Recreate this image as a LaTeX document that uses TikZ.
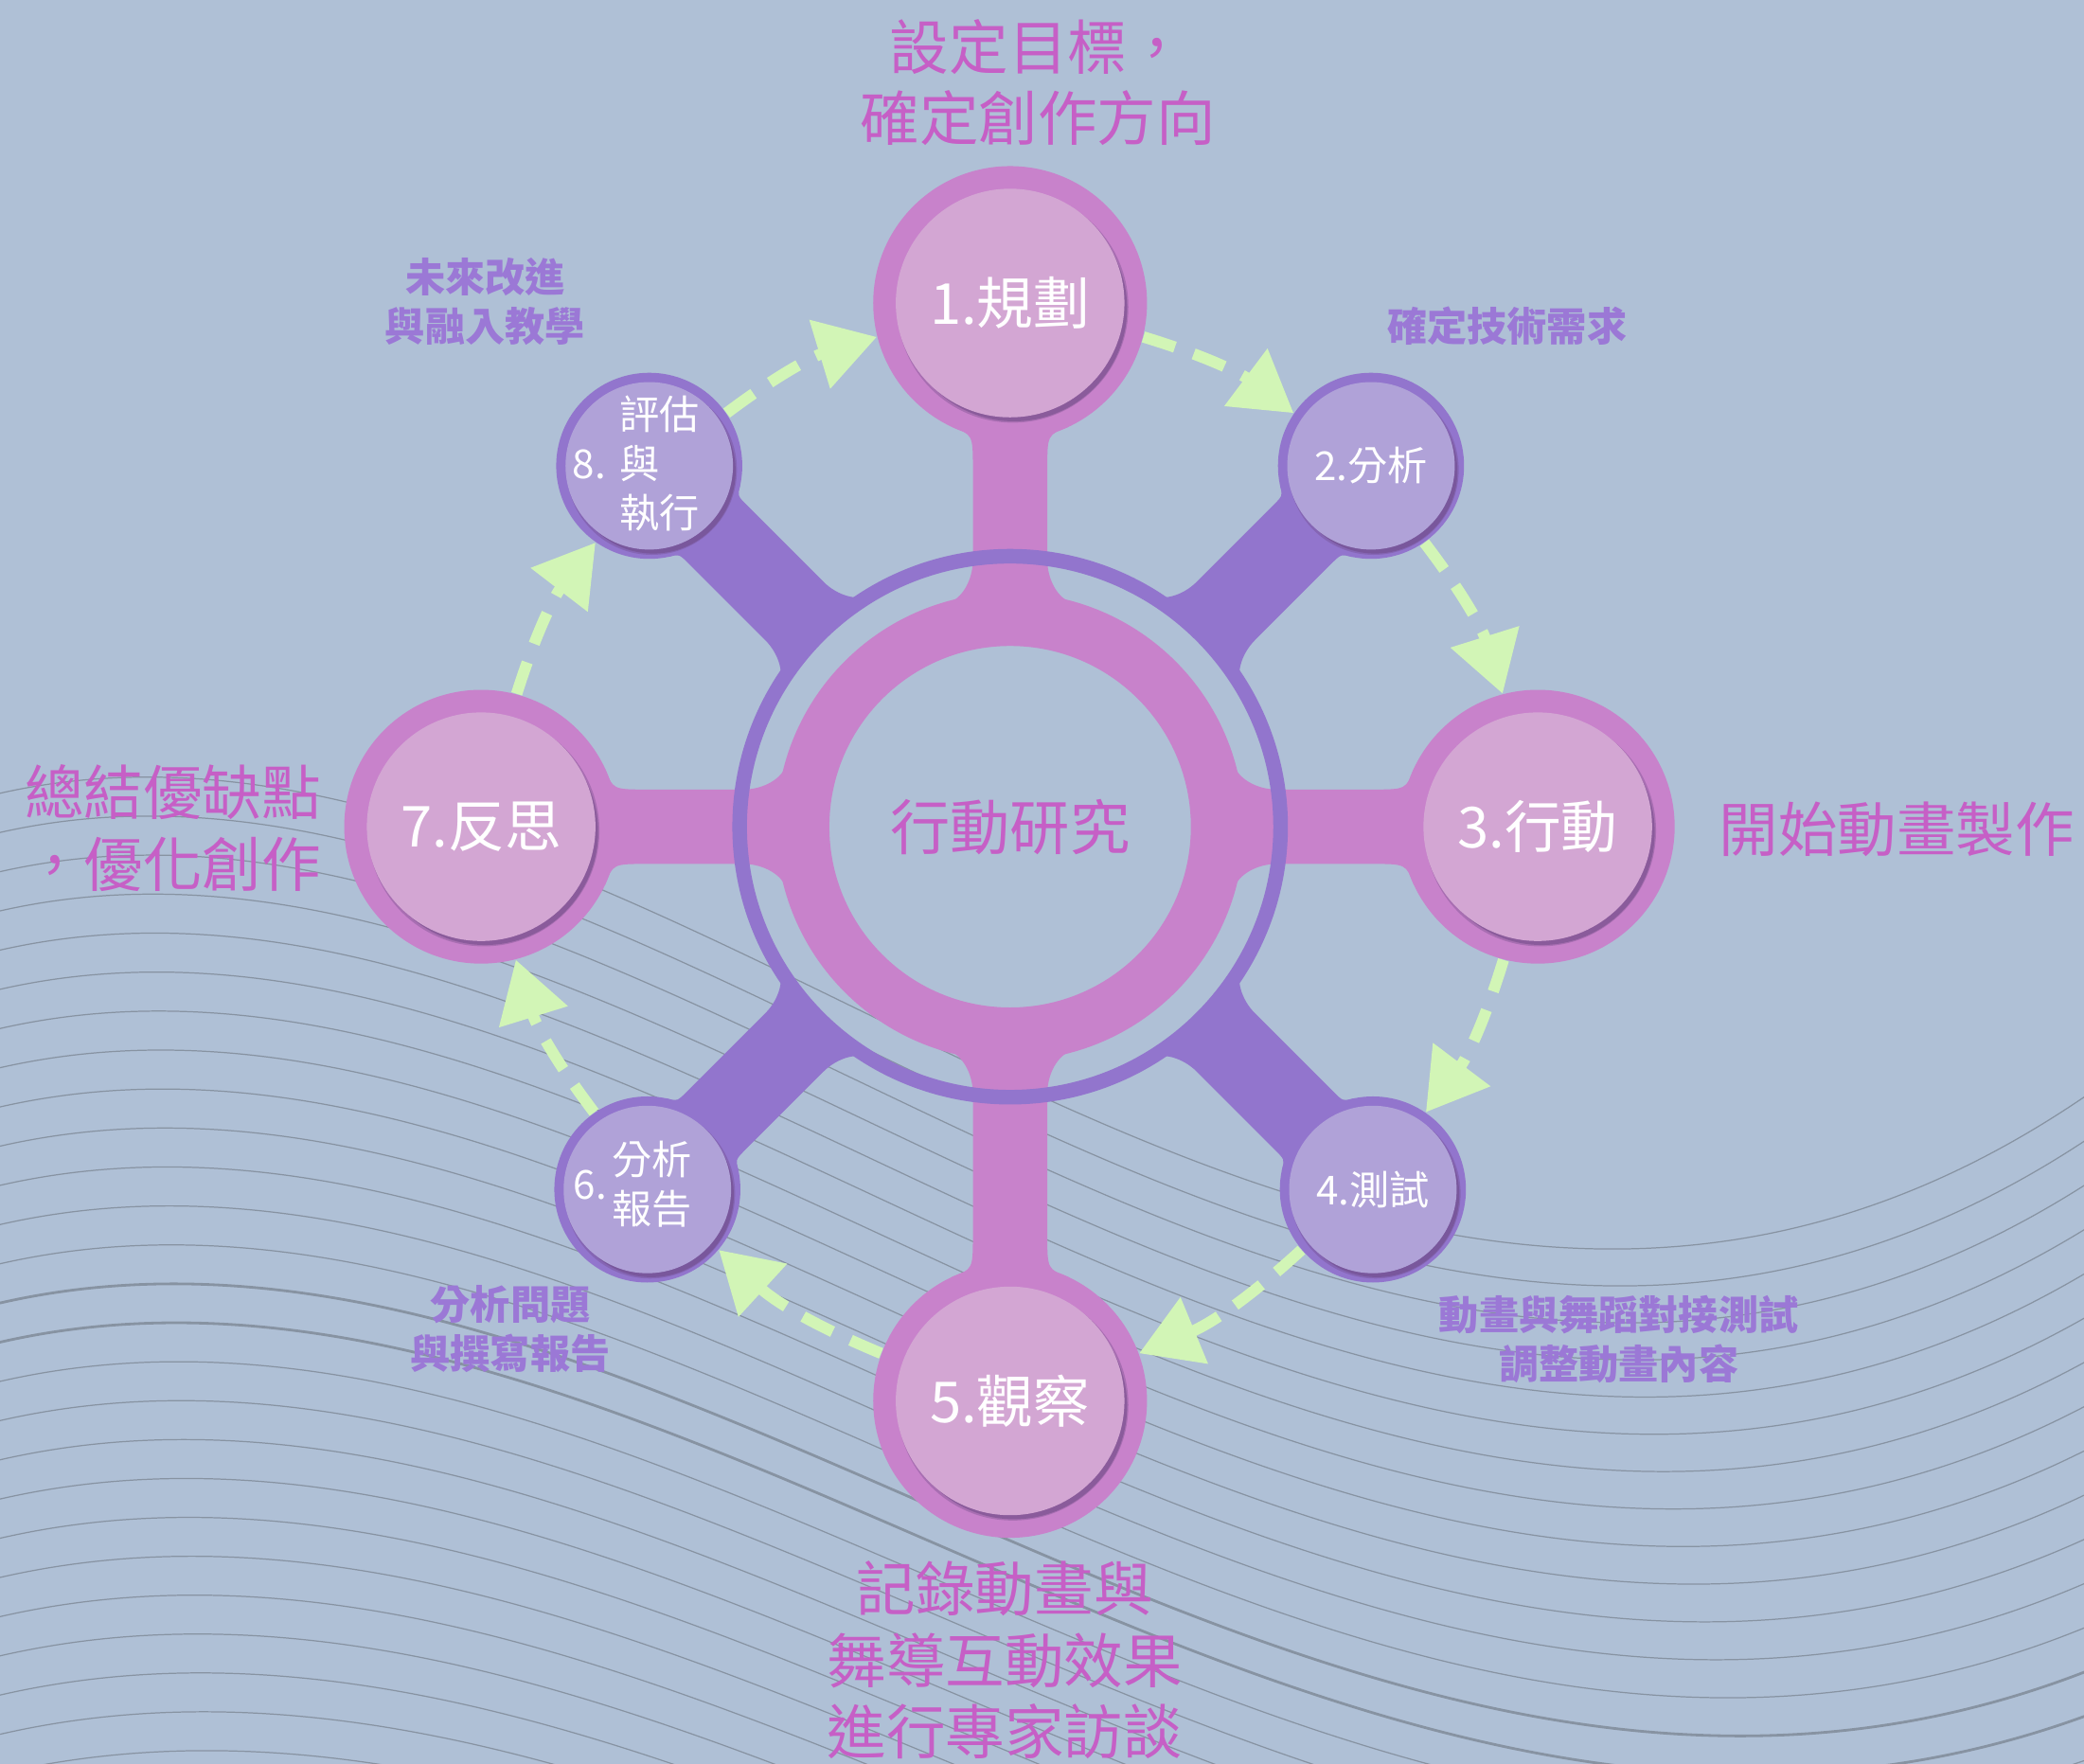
\documentclass[tikz,border=0pt]{standalone}
\usepackage{fontspec}
\newfontfamily\cjk{Noto Sans CJK TC}
\usepackage{tikz}
\usetikzlibrary{arrows.meta}

\definecolor{bgblue}{HTML}{AFC0D6}
\definecolor{pinkring}{HTML}{C882CB}
\definecolor{pinkdisc}{HTML}{D3A6D3}
\definecolor{purpring}{HTML}{9275CD}
\definecolor{purpdisc}{HTML}{B0A2D8}
\definecolor{flowgreen}{HTML}{D2F5B6}
\definecolor{pinktext}{HTML}{C65FC6}
\definecolor{purptext}{HTML}{9B78D6}
\definecolor{discshade}{HTML}{6E4A86}
\definecolor{wavegray}{HTML}{7E8896}

\newlength\pxu
\setlength\pxu{0.014037cm}

% arm from the hub to a node: angle, distance, ring radius, half neck,
% ring flare, flare length, node radius, node flare, colour
\newcommand{\armshape}[9]{%
  \begin{scope}[shift={(c)}, rotate={0-(#1)}]
    \pgfmathsetmacro{\arma}{asin((#4+#5)/#3)}
    \pgfmathsetmacro{\armp}{#3*cos(\arma)}
    \pgfmathsetmacro{\arms}{#3*sqrt(1-(#4/#3)^2)}
    \pgfmathsetmacro{\arme}{#2-#7*sqrt(1-(#4/#7)^2)}
    \pgfmathsetmacro{\armb}{#2-#7*sqrt(1-((#4+#8)/#7)^2)}
    \fill[#9] (\armp,{-(#4+#5)})
      .. controls ({\armp+0.55*#5*sin(\arma)},{-(#4+#5)+0.55*#5*cos(\arma)}) and ({\arms+0.45*#6},{-#4}) .. ({\arms+#6},{-#4})
      -- ({\arme-1.6*#8},{-#4}) .. controls (\arme,{-#4}) .. (\armb,{-(#4+#8)})
      -- (#2,0)
      -- (\armb,{#4+#8}) .. controls (\arme,#4) .. ({\arme-1.6*#8},#4)
      -- ({\arms+#6},#4) .. controls ({\arms+0.45*#6},#4) and ({\armp+0.55*#5*sin(\arma)},{#4+#5-0.55*#5*cos(\arma)}) .. (\armp,{#4+#5})
      arc[start angle=\arma, end angle=-\arma, radius=#3] -- cycle;
  \end{scope}}

\tikzset{
  bignode/.style={circle, fill=pinkring, minimum size=206\pxu, inner sep=0pt},
  smallnode/.style={circle, fill=purpring, minimum size=140\pxu, inner sep=0pt},
  bigdisc/.style={circle, fill=pinkdisc, minimum size=172\pxu, inner sep=0pt, text=white, font=\cjk\fontsize{17}{20}\selectfont},
  smalldisc/.style={circle, fill=purpdisc, minimum size=126\pxu, inner sep=0pt, text=white, font=\cjk\fontsize{12}{14.8}\selectfont},
  disctext/.style={text=white, inner sep=0pt, font=\cjk\fontsize{12}{14.8}\selectfont},
  flow/.style={draw=flowgreen, line width=0.119cm, dash pattern=on 0.35cm off 0.21cm, -{Triangle[length=0.63cm, width=0.73cm]}},
  biglabel/.style={text=pinktext, inner sep=0pt, font=\cjk\fontsize{17.8}{21.5}\selectfont},
  smalllabel/.style={text=purptext, inner sep=0pt, font=\cjk\bfseries\fontsize{12}{14.8}\selectfont},
  wave/.style={draw=wavegray, opacity=0.8},
}

\begin{document}
\begin{tikzpicture}[x={(\pxu,0pt)}, y={(0pt,-\pxu)}]

    % Background
    \fill[bgblue] (0,0) rectangle (1568,1327);
    \useasboundingbox (0,0) rectangle (1568,1327);

    % Wavy lines in the background
    \foreach \k in {0,...,25} {
      \pgfmathsetmacro{\wy}{598+29.5*\k}
      \pgfmathsetmacro{\wb}{620-9.2*\k}
      \pgfmathsetmacro{\wc}{224+3.9*\k}
      \pgfmathsetmacro{\ww}{(\k==13 || \k==14) ? 0.8 : 0.35}
      \draw[wave, line width=\ww pt] (-5,\wy) .. controls (500,\wy-120) and (1000,\wy+\wb) .. (1573,\wy+\wc);
    }

    \coordinate (c) at (760,622);

    % Arms from the hub to the eight steps
    \foreach \a/\d in {-90/394, 0/397, 90/432, 180/398} {
      \armshape{\a}{\d}{175}{28}{18}{28}{103}{16}{pinkring}
    }
    \foreach \a/\d in {-45/384, 45/386, 135/386, -135/384} {
      \armshape{\a}{\d}{204}{31}{18}{28}{70}{7}{purpring}
    }

    % Hub rings
    \draw[purpring, line width=11\pxu] (c) circle (203.5);
    \draw[pinkring, line width=40\pxu] (c) circle (156);
    \node[text=pinktext, font=\cjk\fontsize{18}{20}\selectfont] (core) at (c) {行動研究};

    % Step nodes
    \node[bignode] (n1) at ([shift={(-90:394)}]c) {};
    \node[smallnode] (n2) at ([shift={(-45:384)}]c) {};
    \node[bignode] (n3) at ([shift={(0:397)}]c) {};
    \node[smallnode] (n4) at ([shift={(45:386)}]c) {};
    \node[bignode] (n5) at ([shift={(90:432)}]c) {};
    \node[smallnode] (n6) at ([shift={(135:386)}]c) {};
    \node[bignode] (n7) at ([shift={(180:398)}]c) {};
    \node[smallnode] (n8) at ([shift={(-135:384)}]c) {};

    % Shadows under the discs
    \foreach \n in {1,3,5,7} {
      \fill[discshade, opacity=0.35] ([shift={(2,3)}]n\n) circle (87);
      \fill[discshade, opacity=0.5] ([shift={(3,4)}]n\n) circle (85);
    }
    \foreach \n in {2,4,6,8} {
      \fill[discshade, opacity=0.35] ([shift={(2,3)}]n\n) circle (64);
      \fill[discshade, opacity=0.5] ([shift={(3,4)}]n\n) circle (62);
    }

    % Discs and their texts
    \node[bigdisc] (d1) at (n1) {1.規劃};
    \node[smalldisc] (d2) at (n2) {2.分析};
    \node[bigdisc] (d3) at (n3) {3.行動};
    \node[smalldisc] (d4) at (n4) {4.測試};
    \node[bigdisc] (d5) at (n5) {5.觀察};
    \node[smalldisc] (d6) at (n6) {};
    \node[bigdisc] (d7) at (n7) {7.反思};
    \node[smalldisc] (d8) at (n8) {};
    \node[disctext] (t6) at ([shift={(-11,0)}]d6) {6.\hspace{1.5pt}\begin{tabular}{@{}l@{}}分析\\報告\end{tabular}};
    \node[disctext] (t8) at ([shift={(-10,2)}]d8) {8.\hspace{4pt}\begin{tabular}{@{}l@{}}評估\\與\\執行\end{tabular}};

    % Cycle arrows
    \draw[flow] (n1) to[bend left=10] (n2);
    \draw[flow] (n2) to[bend left=10] (n3);
    \draw[flow] (n3) to[bend left=10] (n4);
    \draw[flow] (n4) to[bend left=10] (n5);
    \draw[flow] (n5) to[bend left=10] (n6);
    \draw[flow] (n6) to[bend left=10] (n7);
    \draw[flow] (n7) to[bend left=10] (n8);
    \draw[flow] (n8) to[bend left=10] (n1);

    % Labels
    \node[biglabel, align=center] (l1) at (781,62) {設定目標，\\確定創作方向};
    \node[smalllabel, align=center] (l2) at (1134,245) {確定技術需求};
    \node[biglabel, anchor=west] (l3) at (1293,624) {開始動畫製作};
    \node[smalllabel, align=center] (l4) at (1218,1008) {動畫與舞蹈對接測試\\調整動畫內容};
    \node[biglabel, align=center] (l5) at (756,1249) {記錄動畫與\\舞導互動效果\\進行專家訪談};
    \node[smalllabel, align=center] (l6) at (384,1000) {分析問題\\與撰寫報告};
    \node[biglabel, align=right, anchor=east] (l7) at (242,623) {總結優缺點\\，優化創作};
    \node[smalllabel, align=center] (l8) at (365,227) {未來改進\\與融入教學};

\end{tikzpicture}
\end{document}
